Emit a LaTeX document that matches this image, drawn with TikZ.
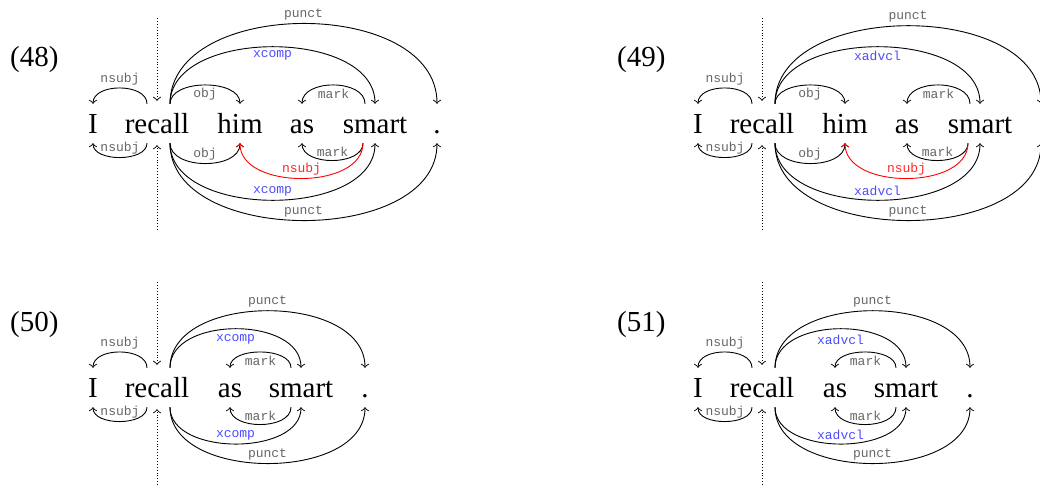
\documentclass[tikz,border=0pt]{standalone}
\usepackage{fontspec}
\setmainfont{Liberation Serif}
\newfontfamily\labelfont{Liberation Mono}
\usetikzlibrary{arrows.meta}

\begin{document}
\begin{tikzpicture}[x=1pt, y=-1pt, >={Classical TikZ Rightarrow[length=4pt,width=8pt]},
    word/.style={font=\fontsize{29}{34}\selectfont, inner sep=0pt, text height=29pt, text depth=10pt, anchor=base},
    exnum/.style={font=\fontsize{29}{34}\selectfont, inner sep=0pt, anchor=base west},
    dep/.style={->, line width=0.9pt},
    root/.style={->, dotted, line width=0.9pt},
    lbl/.style={font=\labelfont\fontsize{13}{15}\selectfont, text=black!60, inner sep=1pt, pos=0.5},
    lup/.style={lbl, yshift=9pt},
    ldown/.style={lbl, yshift=-9pt},
    xlbl/.style={text=blue!70},
    rlbl/.style={text=red!85}]
    \useasboundingbox (0,0) rectangle (1040,490);
    \clip (0,0) rectangle (1040,490);

    % (48)
    \node[exnum] (n48) at (10,66) {(48)};
    \node[word] (i48) at (93,133) {I};
    \node[word] (rec48) at (157,133) {recall};
    \node[word] (him48) at (240,133) {him};
    \node[word] (as48) at (302,133) {as};
    \node[word] (sm48) at (375,133) {smart};
    \node[word] (dot48) at (437,133) {.};
    \coordinate (rt48) at (157,18);
    \coordinate (rb48) at (157,230);
    \draw[root] (rt48) -- ([yshift=3pt]rec48.north);
    \draw[root] (rb48) -- ([yshift=-2pt]rec48.south);
    \draw[dep] ([xshift=-10pt]rec48.north) .. controls +(0,-21) and +(0,-21) .. (i48.north) node[lup] {nsubj};
    \draw[dep] ([xshift=13pt]rec48.north) .. controls +(0,-25) and +(0,-25) .. (him48.north) node[ldown] {obj};
    \draw[dep] ([xshift=13pt]rec48.north) .. controls +(0,-76) and +(0,-76) .. (sm48.north) node[ldown, xlbl] {xcomp};
    \draw[dep] ([xshift=13pt]rec48.north) .. controls +(0,-107) and +(0,-107) .. (dot48.north) node[lup] {punct};
    \draw[dep] ([xshift=-10pt]sm48.north) .. controls +(0,-25) and +(0,-25) .. (as48.north) node[ldown] {mark};
    \draw[dep] ([xshift=-10pt]rec48.south) .. controls +(0,19) and +(0,19) .. (i48.south) node[lup] {nsubj};
    \draw[dep] ([xshift=13pt]rec48.south) .. controls +(0,27) and +(0,27) .. (him48.south) node[lup] {obj};
    \draw[dep] ([xshift=-12pt]sm48.south) .. controls +(0,23) and +(0,23) .. (as48.south) node[lup] {mark};
    \draw[dep, red] ([xshift=-12pt]sm48.south) .. controls +(0,47) and +(0,47) .. (him48.south) node[lup, rlbl] {nsubj};
    \draw[dep] ([xshift=13pt]rec48.south) .. controls +(0,76) and +(0,76) .. (sm48.south) node[lup, xlbl] {xcomp};
    \draw[dep] ([xshift=13pt]rec48.south) .. controls +(0,103) and +(0,103) .. (dot48.south) node[lup] {punct};

    % (49) -- the full stop lies past the right edge
    \begin{scope}[shift={(605,0)}]
    \node[exnum] (n49) at (12,66) {(49)};
    \node[word] (i49) at (93,133) {I};
    \node[word] (rec49) at (157,133) {recall};
    \node[word] (him49) at (240,133) {him};
    \node[word] (as49) at (302,133) {as};
    \node[word] (sm49) at (375,133) {smart};
    \node[word] (dot49) at (441,133) {.};
    \coordinate (rt49) at (157,18);
    \coordinate (rb49) at (157,230);
    \draw[root] (rt49) -- ([yshift=3pt]rec49.north);
    \draw[root] (rb49) -- ([yshift=-2pt]rec49.south);
    \draw[dep] ([xshift=-10pt]rec49.north) .. controls +(0,-21) and +(0,-21) .. (i49.north) node[lup] {nsubj};
    \draw[dep] ([xshift=13pt]rec49.north) .. controls +(0,-25) and +(0,-25) .. (him49.north) node[ldown] {obj};
    \draw[dep] ([xshift=13pt]rec49.north) .. controls +(0,-76) and +(0,-76) .. (sm49.north) node[ldown, xlbl] {xadvcl};
    \draw[dep] ([xshift=13pt]rec49.north) .. controls +(0,-104) and +(0,-104) .. ([xshift=-5pt]dot49.north) node[lup] {punct};
    \draw[dep] ([xshift=-10pt]sm49.north) .. controls +(0,-25) and +(0,-25) .. (as49.north) node[ldown] {mark};
    \draw[dep] ([xshift=-10pt]rec49.south) .. controls +(0,19) and +(0,19) .. (i49.south) node[lup] {nsubj};
    \draw[dep] ([xshift=13pt]rec49.south) .. controls +(0,27) and +(0,27) .. (him49.south) node[lup] {obj};
    \draw[dep] ([xshift=-12pt]sm49.south) .. controls +(0,23) and +(0,23) .. (as49.south) node[lup] {mark};
    \draw[dep, red] ([xshift=-12pt]sm49.south) .. controls +(0,47) and +(0,47) .. (him49.south) node[lup, rlbl] {nsubj};
    \draw[dep] ([xshift=13pt]rec49.south) .. controls +(0,76) and +(0,76) .. (sm49.south) node[lup, xlbl] {xadvcl};
    \draw[dep] ([xshift=13pt]rec49.south) .. controls +(0,103) and +(0,103) .. ([xshift=-5pt]dot49.south) node[lup] {punct};
    \end{scope}

    % (50)
    \begin{scope}[shift={(0,264)}]
    \node[exnum] (n50) at (10,67) {(50)};
    \node[word] (i50) at (93,133) {I};
    \node[word] (rec50) at (157,133) {recall};
    \node[word] (as50) at (230,133) {as};
    \node[word] (sm50) at (301,133) {smart};
    \node[word] (dot50) at (365,133) {.};
    \coordinate (rt50) at (157,18);
    \coordinate (rb50) at (157,221);
    \draw[root] (rt50) -- ([yshift=3pt]rec50.north);
    \draw[root] (rb50) -- ([yshift=-2pt]rec50.south);
    \draw[dep] ([xshift=-10pt]rec50.north) .. controls +(0,-21) and +(0,-21) .. (i50.north) node[lup] {nsubj};
    \draw[dep] ([xshift=13pt]rec50.north) .. controls +(0,-52) and +(0,-52) .. (sm50.north) node[ldown, yshift=-2pt, xlbl] {xcomp};
    \draw[dep] ([xshift=13pt]rec50.north) .. controls +(0,-76) and +(0,-76) .. (dot50.north) node[lup] {punct};
    \draw[dep] ([xshift=-10pt]sm50.north) .. controls +(0,-21) and +(0,-21) .. (as50.north) node[ldown] {mark};
    \draw[dep] ([xshift=-10pt]rec50.south) .. controls +(0,19) and +(0,19) .. (i50.south) node[lup] {nsubj};
    \draw[dep] ([xshift=-10pt]sm50.south) .. controls +(0,23) and +(0,23) .. (as50.south) node[lup] {mark};
    \draw[dep] ([xshift=13pt]rec50.south) .. controls +(0,49) and +(0,49) .. (sm50.south) node[lup, xlbl] {xcomp};
    \draw[dep] ([xshift=13pt]rec50.south) .. controls +(0,75) and +(0,75) .. (dot50.south) node[lup] {punct};
    \end{scope}

    % (51)
    \begin{scope}[shift={(605,264)}]
    \node[exnum] (n51) at (12,67) {(51)};
    \node[word] (i51) at (93,133) {I};
    \node[word] (rec51) at (157,133) {recall};
    \node[word] (as51) at (230,133) {as};
    \node[word] (sm51) at (301,133) {smart};
    \node[word] (dot51) at (365,133) {.};
    \coordinate (rt51) at (157,18);
    \coordinate (rb51) at (157,221);
    \draw[root] (rt51) -- ([yshift=3pt]rec51.north);
    \draw[root] (rb51) -- ([yshift=-2pt]rec51.south);
    \draw[dep] ([xshift=-10pt]rec51.north) .. controls +(0,-21) and +(0,-21) .. (i51.north) node[lup] {nsubj};
    \draw[dep] ([xshift=13pt]rec51.north) .. controls +(0,-52) and +(0,-52) .. (sm51.north) node[ldown, yshift=-2pt, xlbl] {xadvcl};
    \draw[dep] ([xshift=13pt]rec51.north) .. controls +(0,-76) and +(0,-76) .. (dot51.north) node[lup] {punct};
    \draw[dep] ([xshift=-10pt]sm51.north) .. controls +(0,-21) and +(0,-21) .. (as51.north) node[ldown] {mark};
    \draw[dep] ([xshift=-10pt]rec51.south) .. controls +(0,19) and +(0,19) .. (i51.south) node[lup] {nsubj};
    \draw[dep] ([xshift=-10pt]sm51.south) .. controls +(0,23) and +(0,23) .. (as51.south) node[lup] {mark};
    \draw[dep] ([xshift=13pt]rec51.south) .. controls +(0,49) and +(0,49) .. (sm51.south) node[lup, xlbl] {xadvcl};
    \draw[dep] ([xshift=13pt]rec51.south) .. controls +(0,75) and +(0,75) .. (dot51.south) node[lup] {punct};
    \end{scope}
\end{tikzpicture}
\end{document}
